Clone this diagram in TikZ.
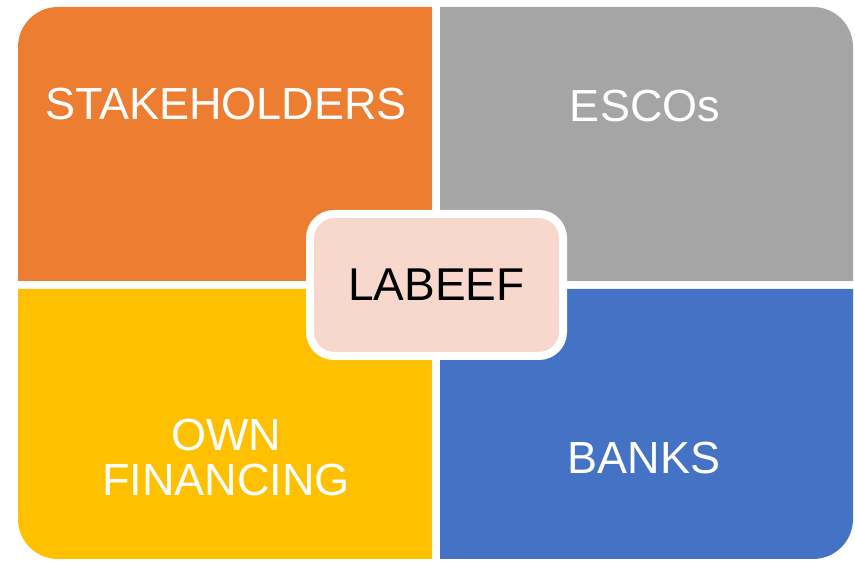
\documentclass[tikz,border=0pt]{standalone}
\usepackage{fontspec}
\setmainfont{Liberation Sans}
\definecolor{stakeorange}{HTML}{ED7D31}
\definecolor{escogray}{HTML}{A5A5A5}
\definecolor{ownyellow}{HTML}{FFC000}
\definecolor{bankblue}{HTML}{4472C4}
\definecolor{labeefpink}{HTML}{F8D8CD}
\begin{document}
\begin{tikzpicture}[x=1pt,y=1pt]

    \tikzset{
      quadtext/.style={
        text=white,
        font=\fontsize{45}{45}\selectfont,
        inner sep=0pt,
        align=center,
      },
      centrebox/.style={
        draw=white,
        line width=8pt,
        fill=labeefpink,
        rounded corners=24pt,
        minimum width=253pt,
        minimum height=142pt,
        font=\fontsize{46}{48}\selectfont,
      },
    }
    \useasboundingbox (0,0) rectangle (855,561);
    \fill[stakeorange] (18,280)--(18,514) arc[start angle=180,end angle=90,radius=40]--(432,554)--(432,280)--cycle;
    \fill[escogray] (440,280)--(440,554)--(813,554) arc[start angle=90,end angle=0,radius=40]--(853,280)--cycle;
    \fill[ownyellow] (18,272)--(432,272)--(432,2)--(58,2) arc[start angle=270,end angle=180,radius=40]--cycle;
    \fill[bankblue] (440,272)--(853,272)--(853,42) arc[start angle=0,end angle=-90,radius=40]--(440,2)--cycle;
    \node[quadtext, anchor=base] (stake) at (226,441.7) {STAKEHOLDERS};
    \node[quadtext, anchor=base] (escos) at (645,439) {ESCOs};
    \node[quadtext] (own) at (226,103) {OWN\\FINANCING};
    \node[quadtext, anchor=base] (banks) at (644,87.7) {BANKS};
    \node[centrebox] (labeef) at (436.5,276) {LABEEF};

\end{tikzpicture}
\end{document}
